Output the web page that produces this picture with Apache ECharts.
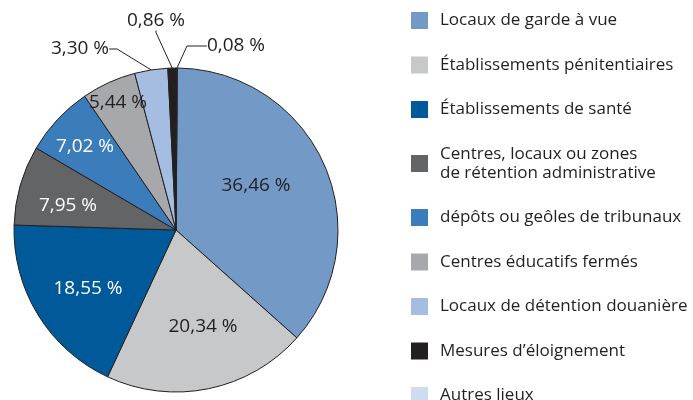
<!DOCTYPE html>
<html>
<head>
<meta charset="utf-8">
<script src="https://cdn.jsdelivr.net/npm/echarts@6/dist/echarts.min.js"></script>
<style>
  html, body { margin: 0; padding: 0; background: #fff; }
  #chart { width: 693px; height: 400px; }
</style>
</head>
<body>
<div id="chart"></div>
<script>
const categories = [
  'Locaux de garde à vue',
  'Établissements pénitentiaires',
  'Établissements de santé',
  'Centres, locaux ou zones\nde rétention administrative',
  'dépôts ou geôles de tribunaux',
  'Centres éducatifs fermés',
  'Locaux de détention douanière',
  'Mesures d’éloignement',
  'Autres lieux',
]
const shares = [36.46, 20.34, 18.55, 7.95, 7.02, 5.44, 3.30, 0.86, 0.08]

const colors = ['#7399c6', '#c7c8ca', '#005a9a', '#636466', '#3b7dbb', '#a6a8ab', '#a5bde0', '#231f20', '#cfdbee']
const labelColors = ['#231f20', '#231f20', '#fff', '#fff', '#fff', '#231f20', '#231f20', '#231f20', '#231f20']
// where each percentage sits in the reference
const labelSpots = [[256, 186], [203, 327], [88, 289], [68, 206], [85, 147], [118, 103], [80, 49], [156, 21], [236, 46]]
const outsideSlices = [6, 7, 8]
const guideLengths = [8, 2, 20]

const chart = echarts.init(document.getElementById('chart'))
const font = "'Open Sans', 'Noto Sans', sans-serif"

const data = categories.map((name, i) => {
  const outside = outsideSlices.indexOf(i)
  return {
    name,
    value: shares[i],
    label: {
      position: outside >= 0 ? 'outside' : 'inside',
      color: labelColors[i],
    },
    labelLine: {
      show: outside >= 0,
      length: 10,
      length2: outside >= 0 ? guideLengths[outside] : 0,
    },
  }
})

chart.setOption({
  color: colors,
  animation: false,
  legend: {
    orient: 'vertical',
    left: 406,
    top: 6,
    height: 420,
    icon: 'rect',
    itemWidth: 17,
    itemHeight: 17,
    itemGap: 25.5,
    itemStyle: { borderWidth: 0 },
    selectedMode: false,
    textStyle: { fontFamily: font, fontSize: 17, color: '#231f20', lineHeight: 19, padding: [0, 0, 0, 7] },
  },
  series: [
    {
      type: 'pie',
      center: [176, 230],
      radius: 162,
      startAngle: 89.5,
      avoidLabelOverlap: false,
      itemStyle: { borderColor: '#231f20', borderWidth: 1 },
      label: {
        fontFamily: font,
        fontSize: 19,
        formatter: (p) => p.value.toFixed(2).replace('.', ',') + ' %',
      },
      labelLine: {
        lineStyle: { color: '#231f20', width: 1 },
        minTurnAngle: 60,
      },
      labelLayout: (params) => {
        const spot = labelSpots[params.dataIndex]
        return { x: spot[0], y: spot[1], align: 'center', verticalAlign: 'middle' }
      },
      emphasis: { disabled: true },
      data,
    },
  ],
})
</script>
</body>
</html>
